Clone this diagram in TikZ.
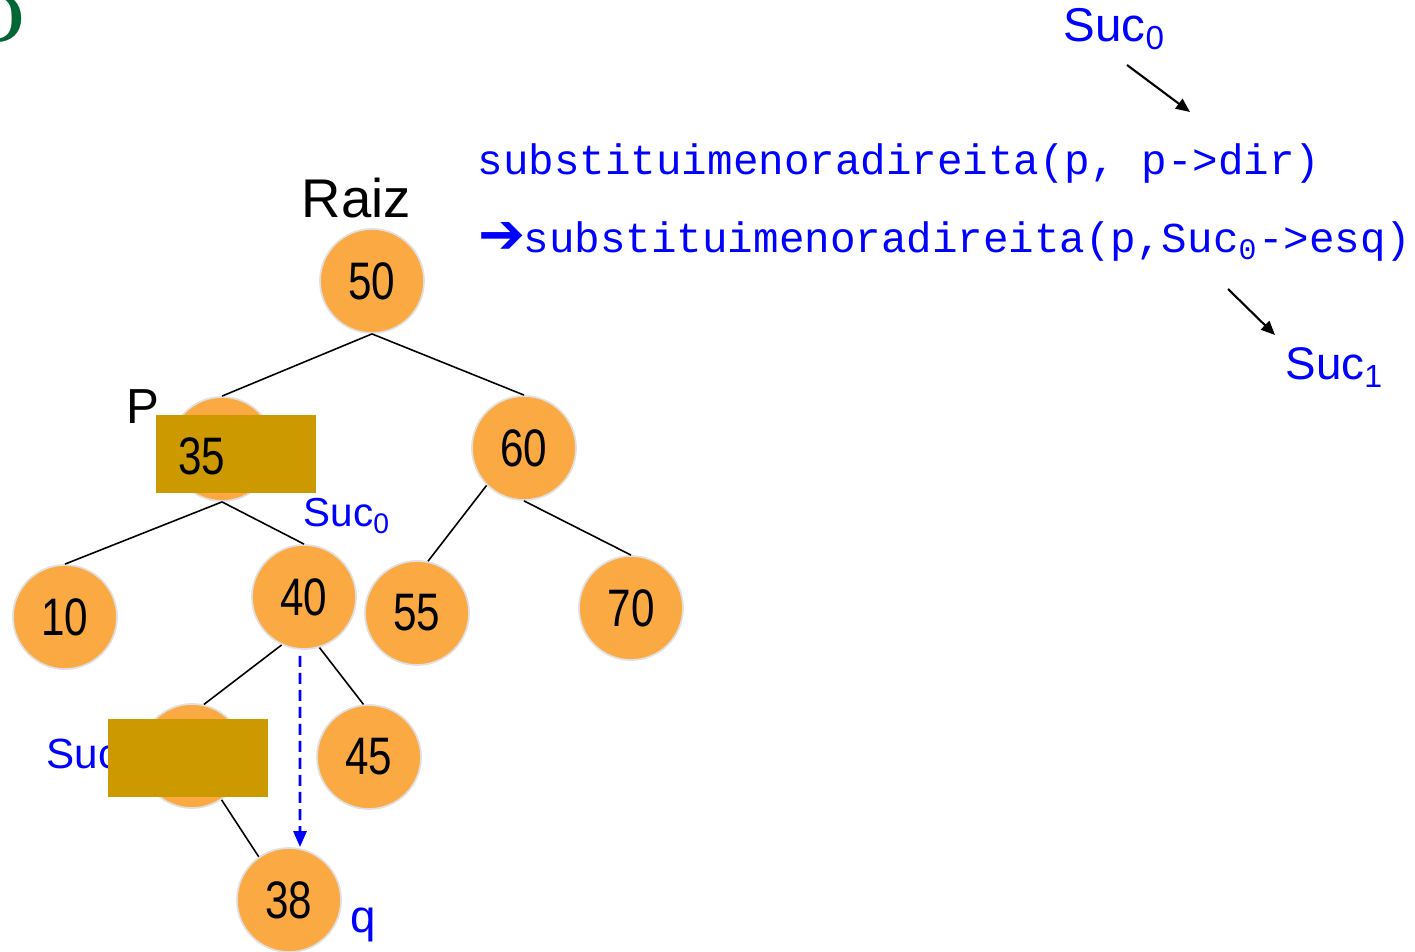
\documentclass[tikz,border=0pt]{standalone}
\usepackage{fontspec}
\setsansfont{Liberation Sans}
\setmonofont{Liberation Mono}
\renewcommand{\familydefault}{\sfdefault}
\newfontfamily\numfont[FakeStretch=0.8]{Liberation Sans}
\newfontfamily\dejavu{DejaVu Sans}
\usetikzlibrary{arrows.meta}
\definecolor{nodeorange}{RGB}{251,169,67}
\definecolor{covergold}{RGB}{204,153,0}
\definecolor{leafgreen}{RGB}{0,102,51}

\begin{document}
\begin{tikzpicture}[x=0.01cm, y=-0.01cm,
		key/.style={circle, fill=nodeorange, draw=black!12, line width=0.5pt, minimum size=1.04cm, inner sep=0pt, font=\numfont\fontsize{15}{15}\selectfont},
		cover/.style={rectangle, fill=covergold, minimum width=1.6cm, minimum height=0.77cm, inner sep=0pt},
		bluetag/.style={anchor=base west, inner sep=0pt, text=blue},
		codeline/.style={anchor=base west, inner sep=0pt, text=blue, font=\ttfamily\fontsize{12.1}{12.1}\selectfont},
		branch/.style={line width=0.45pt},
		ptr/.style={line width=0.6pt, -{Triangle[length=0.14cm, width=0.12cm]}}]
		\useasboundingbox (0,0) rectangle (1415,952);
		\node[anchor=base east, inner sep=0pt, text=leafgreen, font=\rmfamily\bfseries\fontsize{20}{20}\selectfont] (mark) at (27,43) {D};
		\node[key] (n50) at (372,281) {50};
		\node[key] (n35) at (222,449) {};
		\node[key] (n60) at (524,448) {60};
		\node[key] (n10) at (65,617) {10};
		\node[key] (n40) at (304,597) {40};
		\node[key] (n55) at (417,613) {55};
		\node[key] (n70) at (631,608) {70};
		\node[key] (n36) at (192,756) {};
		\node[key] (n45) at (369,757) {45};
		\node[key] (n38) at (289,900) {38};
		\draw[branch] (n50.south) -- (n35.north);
		\draw[branch] (n50.south) -- (n60.north);
		\draw[branch] (n35.south) -- (n10.north);
		\draw[branch] (n35.south) -- (n40.north);
		\draw[branch] (n60.-135) -- (n55.78);
		\draw[branch] (n60.south) -- (n70.north);
		\draw[branch] (n40.-115) -- (n36.77);
		\draw[branch] (n40.-73) -- (n45.96);
		\draw[branch] (n36.-56) -- (n38.125);
		\draw[blue, line width=0.8pt, dash pattern=on 0.11cm off 0.06cm, -{Triangle[length=0.16cm, width=0.13cm]}] ([xshift=-0.04cm, yshift=-0.06cm]n40.south) -- ([xshift=0.11cm]n38.north);
		\node[anchor=base west, inner sep=0pt, font=\fontsize{15.5}{15.5}\selectfont] (raiz) at (301,218) {Raiz};
		\node[anchor=base west, inner sep=0pt, font=\fontsize{14}{14}\selectfont] (lblp) at (126,424) {P};
		\node[bluetag, font=\fontsize{11.5}{11.5}\selectfont] (suc0) at (303,527) {Suc\textsubscript{0}};
		\node[bluetag, font=\fontsize{12}{12}\selectfont] (suc1) at (46,768) {Suc\textsubscript{1}};
		\node[bluetag, font=\fontsize{13}{13}\selectfont] (lblq) at (350,932) {q};
		\node[bluetag, font=\fontsize{13.5}{13.5}\selectfont] (topsuc0) at (1063,42) {Suc\textsubscript{0}};
		\node[bluetag, font=\fontsize{13}{13}\selectfont] (rightsuc1) at (1285,380) {Suc\textsubscript{1}};
		\node[codeline] (code1) at (477,175) {substituimenoradireita(p, p->dir)};
		\node[codeline, font=\dejavu\fontsize{16}{16}\selectfont] (go) at (478,254) {➔};
		\node[codeline] (code2) at (523,253) {substituimenoradireita(p,Suc\textsubscript{0}->esq)};
		\coordinate (a0) at (1127,65);
		\coordinate (a1) at (1190,112);
		\coordinate (b0) at (1228,289);
		\coordinate (b1) at (1275,335);
		\draw[ptr] (a0) -- (a1);
		\draw[ptr] (b0) -- (b1);
		\node[cover] (hide35) at (236,454) {};
		\node[anchor=center, inner sep=0pt, font=\numfont\fontsize{15}{15}\selectfont] (v35) at (202,456) {35};
		\node[cover] (hide36) at (188,758) {};
	\end{tikzpicture}
\end{document}
